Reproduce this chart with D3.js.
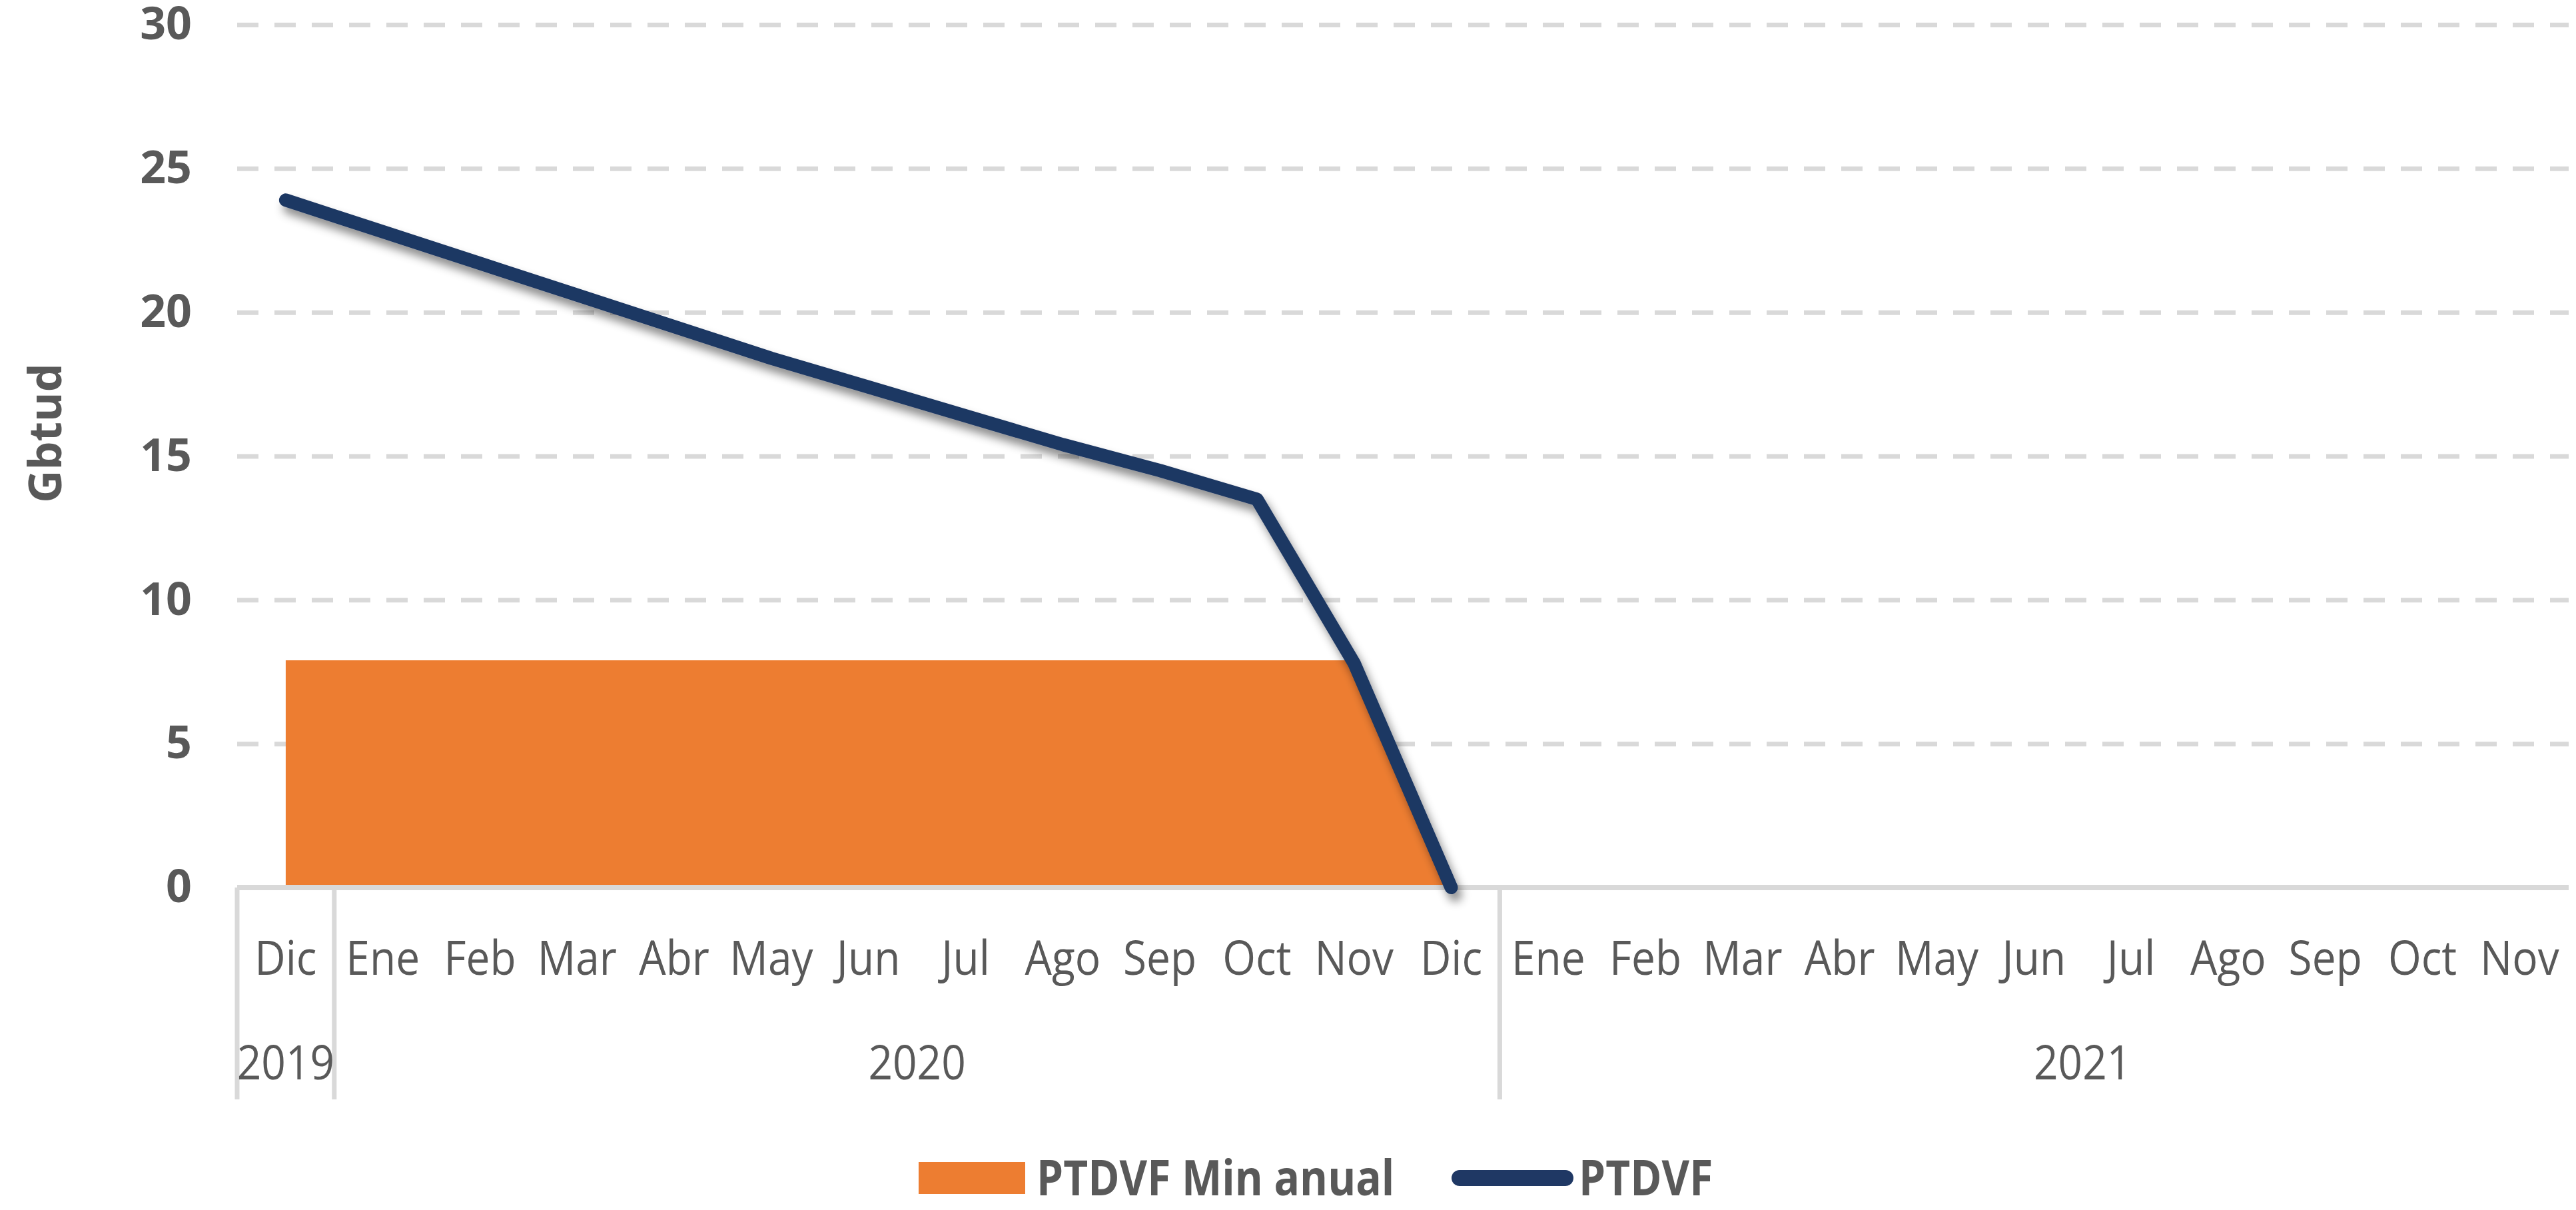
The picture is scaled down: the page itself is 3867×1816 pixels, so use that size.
<!DOCTYPE html>
<html>
<head>
<meta charset="utf-8">
<script src="https://cdn.jsdelivr.net/npm/d3@7"></script>
<style>
  body { margin: 0; background: #fff; }
  svg { display: block; }
  text { fill: #595959; font-family: "Open Sans", "Noto Sans", sans-serif; }
</style>
</head>
<body>
<div id="chart"></div>
<script>
// Chart size and layout
const WIDTH = 3867;
const HEIGHT = 1816;
const PLOT = { left: 356, right: 3856, top: 37, bottom: 1332 };
const BAND = 145.8;

// Data
const monthLabels = ["Dic", "Ene", "Feb", "Mar", "Abr", "May", "Jun", "Jul", "Ago", "Sep", "Oct", "Nov", "Dic",
                     "Ene", "Feb", "Mar", "Abr", "May", "Jun", "Jul", "Ago", "Sep", "Oct", "Nov", "Dic"];
const yearLabels = ["2019", "2020", "2021"];
const yearLengths = [1, 12, 12];
const ptdvfMinAnual = [7.9, 7.9, 7.9, 7.9, 7.9, 7.9, 7.9, 7.9, 7.9, 7.9, 7.9, 7.9, 0];
const ptdvf = [23.9, 22.8, 21.7, 20.6, 19.5, 18.4, 17.4, 16.4, 15.4, 14.5, 13.5, 7.8, 0];
const yTicks = [0, 5, 10, 15, 20, 25, 30];
const seriesNames = ["PTDVF Min anual", "PTDVF"];
const COLORS = { area: "#ED7D31", line: "#1F3864", grid: "#D9D9D9" };

const svg = d3.select("#chart").append("svg")
  .attr("width", WIDTH)
  .attr("height", HEIGHT);

const defs = svg.append("defs");
defs.append("clipPath").attr("id", "plot-clip")
  .append("rect")
  .attr("x", PLOT.left - 20).attr("y", 0)
  .attr("width", PLOT.right - PLOT.left + 20).attr("height", HEIGHT);
defs.append("filter").attr("id", "shadow")
  .attr("x", "-10%").attr("y", "-10%").attr("width", "130%").attr("height", "130%")
  .append("feDropShadow")
  .attr("dx", 6).attr("dy", 11)
  .attr("stdDeviation", 7)
  .attr("flood-color", "#000")
  .attr("flood-opacity", 0.45);

// Scales
const xScale = d3.scaleBand()
  .domain(d3.range(monthLabels.length))
  .range([PLOT.left, PLOT.left + BAND * monthLabels.length]);
const xc = (i) => xScale(i) + xScale.bandwidth() / 2;
const yScale = d3.scaleLinear().domain([0, 30]).range([PLOT.bottom, PLOT.top]);

const plot = svg.append("g").attr("clip-path", "url(#plot-clip)");

// Dashed gridlines
const gridAxis = d3.axisLeft(yScale).tickValues(yTicks.filter(d => d > 0))
  .tickSize(-(PLOT.right - PLOT.left)).tickFormat("");
plot.append("g")
  .attr("transform", "translate(" + PLOT.left + ",0)")
  .call(gridAxis)
  .call(g => g.select(".domain").remove())
  .call(g => g.selectAll("line")
    .attr("stroke", COLORS.grid)
    .attr("stroke-width", 7)
    .attr("stroke-dasharray", "32 24"));

// Area series
const area = d3.area()
  .x((d, i) => xc(i))
  .y0(yScale(0))
  .y1(d => yScale(d));
plot.append("path")
  .datum(ptdvfMinAnual)
  .attr("fill", COLORS.area)
  .attr("d", area);

// Category axis: baseline and year separators
plot.append("line")
  .attr("x1", PLOT.left).attr("x2", PLOT.right)
  .attr("y1", yScale(0)).attr("y2", yScale(0))
  .attr("stroke", COLORS.grid).attr("stroke-width", 8);

let start = 0;
const yearBounds = yearLengths.map(n => { const b = [start, start + n]; start += n; return b; });
const separators = [0].concat(yearBounds.slice(0, -1).map(b => b[1]));
plot.selectAll(".sep")
  .data(separators)
  .enter().append("line")
  .attr("x1", d => xScale(d)).attr("x2", d => xScale(d))
  .attr("y1", yScale(0)).attr("y2", 1650)
  .attr("stroke", COLORS.grid).attr("stroke-width", 7);

// Line series with shadow
const line = d3.line()
  .x((d, i) => xc(i))
  .y(d => yScale(d));
plot.append("path")
  .datum(ptdvf)
  .attr("fill", "none")
  .attr("stroke", COLORS.line)
  .attr("stroke-width", 20)
  .attr("stroke-linecap", "round")
  .attr("stroke-linejoin", "round")
  .attr("filter", "url(#shadow)")
  .attr("d", line);

// Month labels (slightly stretched vertically, like the original font)
svg.append("g").selectAll("text")
  .data(monthLabels.map((m, i) => ({ m: m, i: i })).filter(d => xc(d.i) + 50 < WIDTH))
  .enter().append("text")
  .attr("transform", d => "translate(" + xc(d.i) + ",1463) scale(1,1.1)")
  .attr("text-anchor", "middle")
  .attr("font-size", 64)
  .text(d => d.m);

// Year labels
svg.append("g").selectAll("text")
  .data(yearLabels)
  .enter().append("text")
  .attr("transform", (d, i) => "translate(" + (xScale(yearBounds[i][0]) + BAND * yearLengths[i] / 2) + ",1620) scale(1,1.1)")
  .attr("text-anchor", "middle")
  .attr("font-size", 64)
  .text(d => d);

// Y axis labels
const yAxis = d3.axisLeft(yScale).tickValues(yTicks).tickSize(0).tickPadding(0);
svg.append("g")
  .attr("transform", "translate(288,0)")
  .call(yAxis)
  .call(g => g.select(".domain").remove())
  .call(g => g.selectAll("text")
    .attr("fill", "#595959")
    .attr("font-size", 68)
    .attr("font-weight", "bold")
    .attr("font-family", "'Open Sans', sans-serif"));

// Y axis title
svg.append("text")
  .attr("transform", "translate(92,650) rotate(-90)")
  .attr("text-anchor", "middle")
  .attr("font-size", 68)
  .attr("font-weight", "bold")
  .text("Gbtud");

// Legend
const legend = svg.append("g");
legend.append("rect")
  .attr("x", 1379).attr("y", 1744)
  .attr("width", 160).attr("height", 48)
  .attr("fill", COLORS.area);
legend.append("text")
  .attr("transform", "translate(1556,1794) scale(1,1.15)")
  .attr("font-size", 64).attr("font-weight", "bold")
  .text(seriesNames[0]);
legend.append("line")
  .attr("x1", 2191).attr("x2", 2350)
  .attr("y1", 1768).attr("y2", 1768)
  .attr("stroke", COLORS.line)
  .attr("stroke-width", 24)
  .attr("stroke-linecap", "round");
legend.append("text")
  .attr("transform", "translate(2370,1794) scale(1,1.15)")
  .attr("font-size", 64).attr("font-weight", "bold")
  .text(seriesNames[1]);
</script>
</body>
</html>
